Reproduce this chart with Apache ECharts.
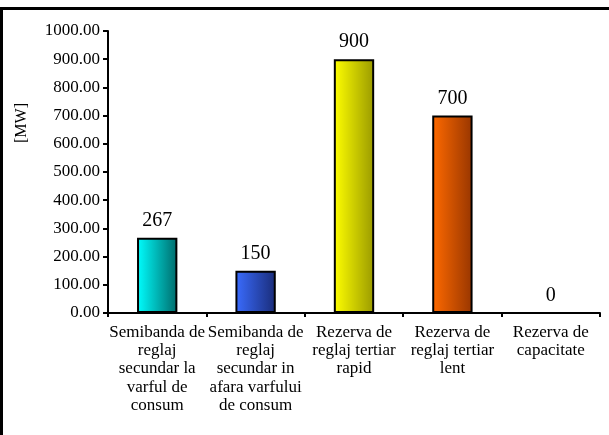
<!DOCTYPE html>
<html>
<head>
<meta charset="utf-8">
<script src="https://cdn.jsdelivr.net/npm/echarts@6/dist/echarts.min.js"></script>
<style>
  body { margin: 0; background: #fff; }
  #myChart { width: 609px; height: 435px; }
</style>
</head>
<body>
<div id="myChart"></div>
<script>
  // categories and values (MW)
  var categories = [
    'Semibanda de\nreglaj\nsecundar la\nvarful de\nconsum',
    'Semibanda de\nreglaj\nsecundar in\nafara varfului\nde consum',
    'Rezerva de\nreglaj tertiar\nrapid',
    'Rezerva de\nreglaj tertiar\nlent',
    'Rezerva de\ncapacitate'
  ]
  var values = [267, 150, 900, 700, 0]
  var yTicks = [0, 100, 200, 300, 400, 500, 600, 700, 800, 900, 1000]

  // light -> dark per bar
  var colors = [
    ['#00ffff', '#006a6a'],
    ['#3a6cff', '#1a2c78'],
    ['#ffff00', '#9a9a00'],
    ['#ff6a00', '#983600'],
    ['#cccccc', '#666666']
  ]

  var font = '"Liberation Serif", "Times New Roman", serif'
  var myCharts = echarts.init(document.getElementById('myChart'))

  myCharts.setOption({
    animation: false,
    textStyle: {fontFamily: font},
    graphic: [{
      type: 'rect',
      shape: {x: 1.5, y: 8.5, width: 640, height: 460},
      style: {fill: null, stroke: '#000', lineWidth: 3}
    }, {
      type: 'text',
      x: 22,
      y: 123,
      rotation: Math.PI / 2,
      style: {
        text: '[MW]',
        font: '16px ' + font,
        fill: '#000',
        align: 'center',
        verticalAlign: 'middle'
      }
    }],
    grid: {left: 108, right: 9, top: 31, bottom: 122},
    xAxis: {
      type: 'category',
      data: categories,
      axisLine: {lineStyle: {color: '#000', width: 2}},
      axisTick: {show: true, length: 4, lineStyle: {color: '#000', width: 2}},
      axisLabel: {
        interval: 0,
        color: '#000',
        fontSize: 17,
        lineHeight: 18.4,
        margin: 10,
        fontFamily: font
      }
    },
    yAxis: {
      type: 'value',
      min: yTicks[0],
      max: yTicks[yTicks.length - 1],
      interval: 100,
      splitLine: {show: false},
      axisLine: {show: true, lineStyle: {color: '#000', width: 2}},
      axisTick: {show: true, length: 5, lineStyle: {color: '#000', width: 2}},
      axisLabel: {
        color: '#000',
        fontSize: 17,
        margin: 8,
        fontFamily: font,
        formatter: function (v) { return v.toFixed(2) }
      }
    },
    series: [{
      type: 'bar',
      barWidth: '41%',
      data: values.map(function (v, i) {
        return {
          value: v,
          itemStyle: {
            // left-to-right shading
            color: new echarts.graphic.LinearGradient(0, 0, 1, 0, [
              {offset: 0, color: colors[i][0]},
              {offset: 1, color: colors[i][1]}
            ]),
            borderColor: '#000',
            borderWidth: v > 0 ? 2 : 0
          }
        }
      }),
      label: {
        show: true,
        position: 'top',
        distance: 7,
        color: '#000',
        fontSize: 20,
        fontFamily: font
      }
    }]
  })
</script>
</body>
</html>
